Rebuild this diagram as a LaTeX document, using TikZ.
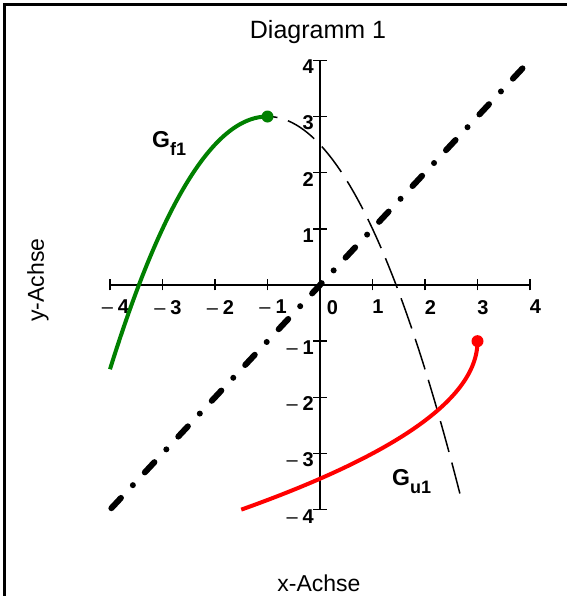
\documentclass[tikz,border=0pt]{standalone}
\usepackage{fontspec}
\setmainfont{Liberation Sans}
\usetikzlibrary{positioning}
\definecolor{fgreen}{RGB}{0,128,0}
\tikzset{
  tlab/.style={font=\bfseries\fontsize{20}{20}\selectfont,inner sep=0pt},
  glab/.style={font=\bfseries\fontsize{23}{23}\selectfont,inner sep=0pt,anchor=base west},
  axlab/.style={font=\fontsize{23}{23}\selectfont,inner sep=0pt},
  axis/.style={line width=1.6pt},
  curve/.style={line width=4pt},
  dot/.style={circle,fill,inner sep=0pt,minimum size=12pt}
}
\newcommand{\subf}[1]{\raisebox{-8pt}{\fontsize{18}{18}\selectfont #1}}
\newcommand{\mn}{{\mdseries –}\hspace{5pt}}

\begin{document}
\begin{tikzpicture}[x=52.5pt,y=56.16pt]
    \useasboundingbox (-320pt,-311pt) rectangle (246pt,285pt);
    \draw[line width=3pt] (-315pt,-320pt) -- (-315pt,280pt) -- (250pt,280pt);

    \node[axlab,font=\fontsize{25}{25}\selectfont] (title) at (-2pt,253pt) {Diagramm 1};
    \node[axlab,rotate=90] (ylab) at (-282pt,5pt) {y-Achse};
    \node[axlab] (xlab) at (-1pt,-298pt) {x-Achse};

    % axes
    \draw[axis] (-4,0) -- (4,0);
    \draw[axis] (0,-4) -- (0,4);
    \foreach \i in {-4,...,4} {
        \draw[axis] (\i,0) ++(0,-5.5pt) -- ++(0,11pt);
    }
    \foreach \i in {-4,...,-1,1,2,3,4} {
        \draw[axis] (0,\i) ++(-7pt,0) -- ++(14pt,0);
    }

    % tick labels
    \foreach \i in {1,...,4} {
        \node[tlab,anchor=north] (xp\i) at ([xshift=5.5pt,yshift=-15pt]\i,0) {\i};
        \node[tlab,anchor=north] (xm\i) at ([xshift=5.5pt,yshift=-15pt]-\i,0) {\mn\i};
        \node[tlab,anchor=east] (yp\i) at ([xshift=-6pt,yshift=-6.5pt]0,\i) {\i};
        \node[tlab,anchor=east] (ym\i) at ([xshift=-6pt,yshift=-6.5pt]0,-\i) {\mn\i};
    }
    \node[tlab,anchor=north] (x0) at ([xshift=12.5pt,yshift=-15pt]0,0) {0};

    % graphs
    \draw[line width=1.5pt,dash pattern=on 32pt off 11pt,dash phase=22pt]
        plot[domain=-1:2.7,samples=80] (\x,{3-0.5*(\x+1)^2});
    \draw[line width=6pt,line cap=round,dash pattern=on 14pt off 17.5pt on 0pt off 17.5pt,dash phase=47pt]
        (-4,-4) -- (4,4);
    \draw[curve,fgreen] plot[domain=-4:-1,samples=80] (\x,{3-0.5*(\x+1)^2});
    \draw[curve,red] plot[domain=-4:-1,samples=80,variable=\t] ({3-0.5*(\t+1)^2},\t);
    \node[dot,fgreen] (ftop) at (-1,3) {};
    \node[dot,red] (utop) at (3,-1) {};

    \node[glab] (gf) at (-168pt,137pt) {G\subf{f1}};
    \node[glab] (gu) at (72pt,-200pt) {G\subf{u1}};
\end{tikzpicture}
\end{document}
